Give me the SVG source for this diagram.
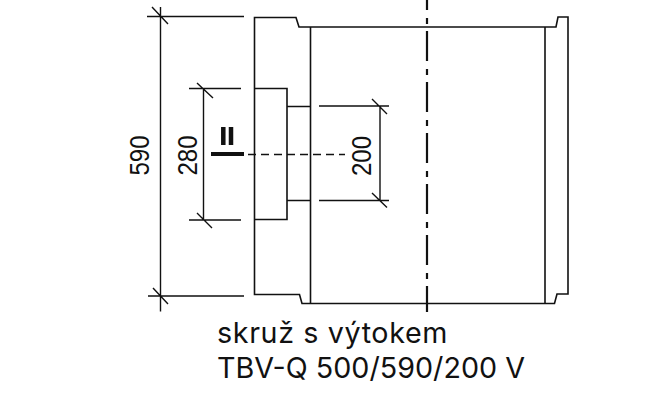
<svg xmlns="http://www.w3.org/2000/svg" width="670" height="400" viewBox="0 0 670 400">
<style>
.l{fill:none;stroke:#111;stroke-width:1.600}
.d{fill:none;stroke:#111;stroke-width:1.400}
text{fill:#111}
.dim{font-family:"Liberation Sans",sans-serif;font-size:27px}
.cap{font-family:"Inter","Liberation Sans",sans-serif;font-size:28.700px}
</style>
<rect width="670" height="400" fill="#fff"/>
<g id="body">
<path class="l" d="M254.500 17.500H296L299 27H556L558 17H568V294H557L554.500 303.500H302L299.500 294.500H254.500Z"/>
<path class="l" d="M310.500 27V303.500M545 27V303.500M254.500 88.500H287V219.500H254.500M287 106.500H310.500M287 200.500H310.500"/>
</g>
<g id="connectors">
<path class="d" d="M147 16.500H244M160.500 7V311.500M152 7L168 24M148 296H244M153 288L168 304"/>
<path class="d" d="M189 88.500H241M203.500 88.500V220M197 83L213 98M189 220H241M197 213L212 228"/>
<path class="d" d="M319 106H389M380 106V200.500M372 99L387 114M319 200.500H389M372 193L387 207.500"/>
<path d="M211 154H244" fill="none" stroke="#111" stroke-width="4"/>
<path d="M248 154.500H345" fill="none" stroke="#111" stroke-width="1.400" stroke-dasharray="8 5"/>
<path d="M427 0V312" fill="none" stroke="#111" stroke-width="2.200" stroke-dasharray="30 8 6 7" stroke-dashoffset="20"/>
<path d="M223.300 127V145M231 127V145" fill="none" stroke="#111" stroke-width="4.500"/>
</g>
<g id="labels">
<text class="dim" transform="translate(149 175.500) rotate(-90) scale(.89 1)">590</text>
<text class="dim" transform="translate(197 175.500) rotate(-90) scale(.89 1)">280</text>
<text class="dim" transform="translate(370.500 176) rotate(-90) scale(.89 1)">200</text>
<text class="cap" x="217" y="343" letter-spacing=".62">skruž s výtokem</text>
<text class="cap" x="217" y="378">TBV-Q 500/590/200 V</text>
</g>
</svg>
